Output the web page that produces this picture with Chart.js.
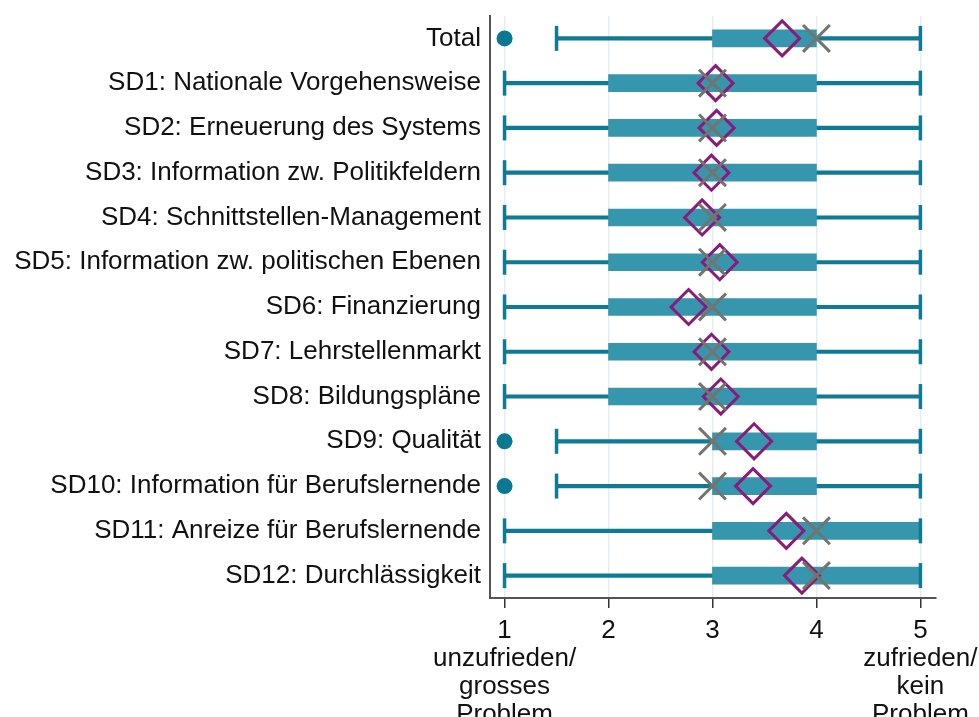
<!DOCTYPE html>
<html>
<head>
<meta charset="utf-8">
<script src="https://cdn.jsdelivr.net/npm/chart.js@4"></script>
<style>
  html, body { margin: 0; padding: 0; background: #fff; }
  #wrap { width: 979px; height: 717px; }
</style>
</head>
<body>
<div id="wrap"><canvas id="boxChart" width="979" height="717"></canvas></div>
<script>
// Kategorien
const categories = [
    'Total',
    'SD1: Nationale Vorgehensweise',
    'SD2: Erneuerung des Systems',
    'SD3: Information zw. Politikfeldern',
    'SD4: Schnittstellen-Management',
    'SD5: Information zw. politischen Ebenen',
    'SD6: Finanzierung',
    'SD7: Lehrstellenmarkt',
    'SD8: Bildungspläne',
    'SD9: Qualität',
    'SD10: Information für Berufslernende',
    'SD11: Anreize für Berufslernende',
    'SD12: Durchlässigkeit'
];

// Boxplot-Kennzahlen
const whiskerLow  = [1.5, 1, 1, 1, 1, 1, 1, 1, 1, 1.5, 1.5, 1, 1];
const quartile1   = [3, 2, 2, 2, 2, 2, 2, 2, 2, 3, 3, 3, 3];
const medians     = [4, 3, 3, 3, 3, 3, 3, 3, 3, 3, 3, 4, 4];
const quartile3   = [4, 4, 4, 4, 4, 4, 4, 4, 4, 4, 4, 5, 5];
const whiskerHigh = [5, 5, 5, 5, 5, 5, 5, 5, 5, 5, 5, 5, 5];
const means       = [3.67, 3.03, 3.04, 2.99, 2.90, 3.07, 2.77, 2.99, 3.08, 3.40, 3.39, 3.71, 3.86];
const outliers    = [[1], [], [], [], [], [], [], [], [], [1], [1], [], []];

// Achsenbeschriftung
const tickValues = [1, 2, 3, 4, 5];
const tickLabels = [
    ['1', 'unzufrieden/', 'grosses', 'Problem'],
    '2',
    '3',
    '4',
    ['5', 'zufrieden/', 'kein', 'Problem']
];

const teal = '#3596ae';
const tealDark = '#0e7b94';
const fontFamily = "'Liberation Sans', Arial, sans-serif";

const capPoints = [];
categories.forEach((c, i) => {
    capPoints.push({x: whiskerLow[i], y: c});
    capPoints.push({x: whiskerHigh[i], y: c});
});
const outlierPoints = [];
categories.forEach((c, i) => outliers[i].forEach(v => outlierPoints.push({x: v, y: c})));

const ctx = document.getElementById('boxChart').getContext('2d');
window.boxChart = new Chart(ctx, {
    type: 'bar',
    data: {
        labels: categories,
        datasets: [
            {
                type: 'line',
                label: 'Median',
                data: categories.map((c, i) => ({x: medians[i], y: c})),
                showLine: false,
                pointStyle: 'crossRot',
                pointRadius: 19,
                pointBorderWidth: 3,
                pointBorderColor: '#74746e',
                order: 0
            },
            {
                type: 'line',
                label: 'Mittelwert',
                data: categories.map((c, i) => ({x: means[i], y: c})),
                showLine: false,
                pointStyle: 'rectRot',
                pointRadius: 17.5,
                pointBorderWidth: 3,
                pointBorderColor: '#8c1a7b',
                pointBackgroundColor: 'rgba(0,0,0,0)',
                order: 1
            },
            {
                type: 'line',
                label: 'Ausreisser',
                data: outlierPoints,
                showLine: false,
                pointStyle: 'circle',
                pointRadius: 8,
                pointBorderWidth: 0,
                pointBackgroundColor: '#0a7891',
                order: 2
            },
            {
                type: 'line',
                label: 'Whisker-Enden',
                data: capPoints,
                showLine: false,
                pointStyle: 'line',
                pointRotation: 90,
                pointRadius: 12.5,
                pointBorderWidth: 3.5,
                pointBorderColor: tealDark,
                order: 2
            },
            {
                label: 'Box',
                data: categories.map((c, i) => [quartile1[i], quartile3[i]]),
                backgroundColor: teal,
                borderWidth: 0,
                borderSkipped: false,
                barThickness: 17,
                grouped: false,
                order: 3
            },
            {
                label: 'Whisker',
                data: categories.map((c, i) => [whiskerLow[i], whiskerHigh[i]]),
                backgroundColor: tealDark,
                borderWidth: 0,
                borderSkipped: false,
                barThickness: 3.5,
                grouped: false,
                order: 4
            }
        ]
    },
    options: {
        indexAxis: 'y',
        responsive: false,
        animation: false,
        layout: {autoPadding: false, padding: {top: 16, right: 43, bottom: 0, left: 0}},
        plugins: {
            legend: {display: false},
            tooltip: {enabled: false}
        },
        scales: {
            x: {
                type: 'linear',
                min: 0.86,
                max: 5.15,
                afterBuildTicks: s => { s.ticks = tickValues.map(v => ({value: v})); },
                afterFit: s => { s.height = 119; s.paddingLeft = 0; s.paddingRight = 0; },
                grid: {
                    color: '#e4edf1',
                    lineWidth: 1.5,
                    tickColor: '#333',
                    tickLength: 10,
                    drawTicks: true
                },
                border: {display: true, color: '#555', width: 2},
                ticks: {
                    color: '#111',
                    padding: 9,
                    maxRotation: 0,
                    autoSkip: false,
                    font: {family: fontFamily, size: 26, lineHeight: 1.08},
                    callback: (v) => tickLabels[tickValues.indexOf(v)]
                }
            },
            y: {
                type: 'category',
                offset: true,
                afterFit: s => { s.width = 490; s.paddingTop = 0; s.paddingBottom = 0; },
                grid: {display: false, drawTicks: false},
                border: {display: true, color: '#555', width: 2},
                ticks: {
                    color: '#111',
                    padding: 9,
                    autoSkip: false,
                    font: {family: fontFamily, size: 26}
                }
            }
        }
    }
});
</script>
</body>
</html>
